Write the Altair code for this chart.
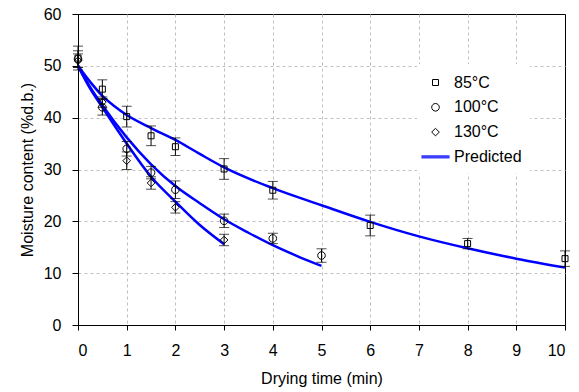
import altair as alt
import pandas as pd

# ---- measured data (moisture content, %d.b.) ----
series_names = ["85°C", "100°C", "130°C"]

t85 = [0, 0.5, 1, 1.5, 2, 3, 4, 6, 8, 10]
m85 = [51.5, 45.5, 40.2, 36.5, 34.4, 30.1, 26.0, 19.2, 15.7, 12.8]
e85 = [2.3, 1.8, 2.0, 1.9, 1.7, 2.0, 1.7, 2.0, 1.0, 1.5]

t100 = [0, 0.5, 1, 1.5, 2, 3, 4, 5]
m100 = [51.3, 42.0, 34.0, 29.4, 26.1, 20.1, 16.7, 13.4]
e100 = [1.6, 1.5, 1.4, 1.2, 1.7, 1.3, 1.0, 1.3]

t130 = [0, 0.5, 1, 1.5, 2, 3]
m130 = [51.0, 43.0, 31.7, 27.4, 22.7, 16.4]
e130 = [1.3, 1.0, 1.7, 1.2, 1.1, 1.1]

# ---- predicted curves ----
p85_t = [0, 0.25, 0.5, 0.75, 1, 1.5, 2, 2.5, 3, 4, 5, 6, 7, 8, 9, 10]
p85_m = [50, 46.9, 44.2, 42.2, 40.5, 38.0, 35.7, 33.0, 30.4, 26.4, 23.1, 19.9, 17.1, 14.8, 12.8, 11.1]
p100_t = [0, 0.25, 0.5, 1, 1.5, 2, 2.5, 3, 3.5, 4, 4.5, 5]
p100_m = [50, 45.9, 42.4, 36.2, 31.0, 26.8, 23.5, 20.4, 17.8, 15.4, 13.3, 11.4]
p130_t = [0, 0.25, 0.5, 1, 1.5, 2, 2.5, 3]
p130_m = [50, 45.6, 42.0, 35.0, 28.6, 23.8, 19.3, 15.6]

legend_domain = ["85°C", "100°C", "130°C", "Predicted"]
legend_colors = ["black", "black", "black", "#0000ff"]
legend_shapes = [
    "M-0.3,-0.3H0.3V0.3H-0.3Z",
    "M-0.38,0A0.38,0.38,0,1,0,0.38,0A0.38,0.38,0,1,0,-0.38,0Z",
    "M0,-0.38L0.38,0L0,0.38L-0.38,0Z",
    "M-1.4,-0.1H1.4M-1.4,0H1.4M-1.4,0.1H1.4",
]

rows = []
for name, ts, ms, es in [("85°C", t85, m85, e85), ("100°C", t100, m100, e100), ("130°C", t130, m130, e130)]:
    for t, m, e in zip(ts, ms, es):
        rows.append({"t": t, "m": m, "lo": m - e, "hi": m + e, "legend": name})
obs = pd.DataFrame(rows)

prow = []
for name, ts, ms in [("85°C", p85_t, p85_m), ("100°C", p100_t, p100_m), ("130°C", p130_t, p130_m)]:
    for t, m in zip(ts, ms):
        prow.append({"t": t, "m": m, "series": name, "legend": "Predicted"})
pred = pd.DataFrame(prow)

FONT = "Liberation Sans"

color_scale = alt.Scale(domain=legend_domain, range=legend_colors)
shape_scale = alt.Scale(domain=legend_domain, range=legend_shapes)

legend = alt.Legend(
    title=None, orient="none", legendX=339, legendY=50,
    fillColor="white", padding=8, symbolSize=400, symbolStrokeWidth=1,
    labelOffset=8, rowPadding=5.8, labelFontSize=16, labelFont=FONT,
    labelColor="black", symbolFillColor="transparent",
)

x_axis = alt.Axis(
    values=list(range(0, 11)), title="Drying time (min)", grid=True,
    gridDash=[3, 3], gridColor="#c0c0c0", domainColor="black", tickColor="black",
    gridOpacity={"condition": {"test": "datum.value >= 10 || datum.value <= 0", "value": 0}, "value": 1},
    tickSize=5, labelFontSize=16, labelFont=FONT, labelColor="black",
    titleFont=FONT, titleFontSize=16, titleFontWeight="normal", titleColor="black",
    labelPadding=12, titlePadding=12, format="d",
)
y_axis = alt.Axis(
    values=list(range(0, 61, 10)), title="Moisture content (%d.b.)", grid=True,
    gridDash=[3, 3], gridColor="#c0c0c0", domainColor="black", tickColor="black",
    gridOpacity={"condition": {"test": "datum.value >= 60 || datum.value <= 0", "value": 0}, "value": 1},
    tickSize=6, labelFontSize=16, labelFont=FONT, labelColor="black",
    titleFont=FONT, titleFontSize=16, titleFontWeight="normal", titleColor="black",
    labelPadding=11, titlePadding=8,
)

X = alt.X("t:Q", scale=alt.Scale(domain=[0, 10], nice=False), axis=x_axis)
Y = alt.Y("m:Q", scale=alt.Scale(domain=[0, 60], nice=False), axis=y_axis)

lines = alt.Chart(pred).mark_line(interpolate="monotone", strokeWidth=2.5).encode(
    x=X, y=Y,
    color=alt.Color("legend:N", scale=color_scale, legend=legend),
    detail="series:N",
)

bars = alt.Chart(obs).mark_rule(color="black", strokeWidth=1).encode(
    x="t:Q", y="lo:Q", y2="hi:Q"
)
cap_lo = alt.Chart(obs).mark_tick(color="black", orient="horizontal", size=10, thickness=1).encode(
    x="t:Q", y="lo:Q"
)
cap_hi = alt.Chart(obs).mark_tick(color="black", orient="horizontal", size=10, thickness=1).encode(
    x="t:Q", y="hi:Q"
)

points = alt.Chart(obs).mark_point(filled=False, size=400, strokeWidth=1, opacity=1).encode(
    x="t:Q", y="m:Q",
    color=alt.Color("legend:N", scale=color_scale, legend=legend),
    shape=alt.Shape("legend:N", scale=shape_scale, legend=legend),
)

chart = alt.layer(lines, bars, cap_lo, cap_hi, points).properties(
    width=487, height=311,
    autosize=alt.AutoSizeParams(type="none"),
    padding={"left": 78, "top": 14, "right": 14, "bottom": 67},
    background="white",
).configure_view(stroke="black", strokeWidth=1)

chart.save("out.html", embed_options={"renderer": "svg", "actions": False})
